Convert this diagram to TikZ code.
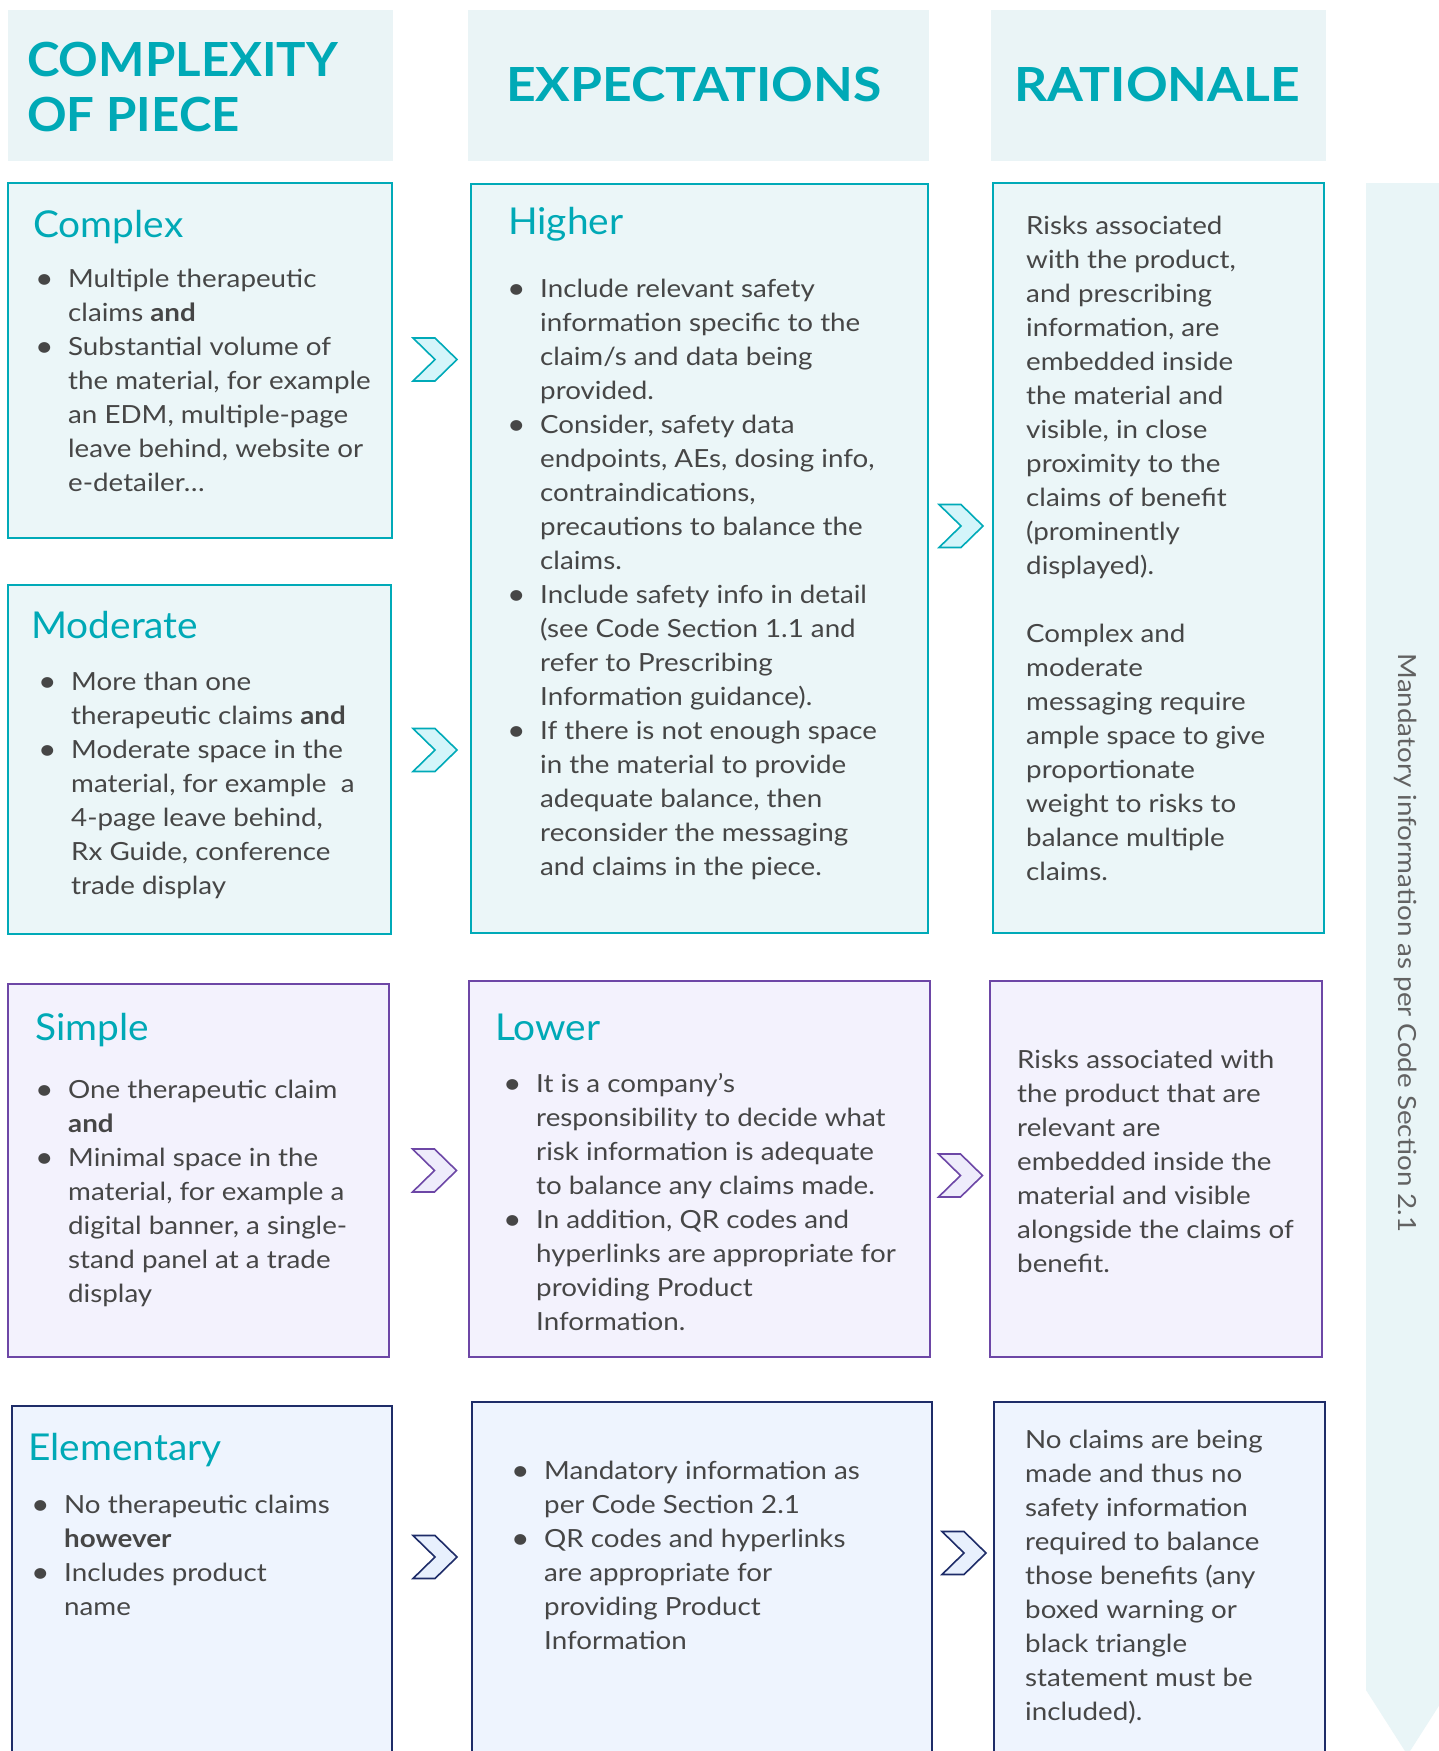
\documentclass[tikz,border=0pt]{standalone}
\usepackage{fontspec}
\setmainfont{Lato}[FakeStretch=1.11]
\newfontfamily\ttlfont{Lato}[FakeStretch=1.05]
\newfontfamily\hdfont{Lato}[FakeStretch=1.1]

\definecolor{tealtext}{HTML}{00A9B6}
\definecolor{hdrbg}{HTML}{EAF4F6}
\definecolor{tealline}{HTML}{00AAB8}
\definecolor{tealfill}{HTML}{EBF6F8}
\definecolor{tealchev}{HTML}{D4F5FA}
\definecolor{purpline}{HTML}{6D47A6}
\definecolor{purpfill}{HTML}{F3F2FD}
\definecolor{purpchev}{HTML}{EEECFB}
\definecolor{navyline}{HTML}{1E2C68}
\definecolor{navyfill}{HTML}{EEF4FE}
\definecolor{navychev}{HTML}{E8F0FD}
\definecolor{bodytext}{HTML}{464646}
\definecolor{sidebar}{HTML}{E9F5F7}

% bullet and continuation indents
\newcommand\bu{\makebox[26pt][l]{\hspace*{-7pt}\raisebox{-1pt}{\scalebox{1.15}{\textbullet}}}}
\newcommand\ct{\hspace*{26pt}}

\tikzset{
  hdrbox/.style={fill=hdrbg, draw=none},
  tealbox/.style={draw=tealline, fill=tealfill, line width=2.2pt},
  purpbox/.style={draw=purpline, fill=purpfill, line width=2.2pt},
  navybox/.style={draw=navyline, fill=navyfill, line width=2.2pt},
  tealchevron/.style={draw=tealline, fill=tealchev, line width=1.6pt, line join=miter},
  purpchevron/.style={draw=purpline, fill=purpchev, line width=1.6pt, line join=miter},
  navychevron/.style={draw=navyline, fill=navychev, line width=1.6pt, line join=miter},
  body/.style={anchor=north west, inner sep=0pt, align=left, text=bodytext,
    font=\fontsize{25}{34}\selectfont},
  ttl/.style={anchor=base west, inner sep=0pt, text=tealtext,
    font=\ttlfont\fontsize{37}{44}\selectfont},
  hd/.style={anchor=base west, inner sep=0pt, text=tealtext,
    font=\hdfont\fontsize{47}{55}\selectfont\bfseries},
}

% chevron centred on (#1,#2)
\newcommand\chev[3]{%
  \draw[#3, shift={(#1,#2)}] (-22,-21.5) -- (0,-21.5) -- (22,0) -- (0,21.5)
    -- (-22,21.5) -- (0,0) -- cycle;}

\begin{document}
\begin{tikzpicture}[x=1pt,y=-1pt]
\useasboundingbox (0,0) rectangle (1438,1751);
\fill[white] (0,0) rectangle (1438,1751);

% column headers
\fill[hdrbox] (8,10) rectangle (393,161);
\fill[hdrbox] (468,10) rectangle (929,161);
\fill[hdrbox] (991,10) rectangle (1326,161);
\node[hd] (hcomp1) at (27,76) {\scalebox{0.95}[1]{COMPLEXITY}};
\node[hd] (hcomp2) at (27,131) {\scalebox{0.95}[1]{OF PIECE}};
\node[hd] (hexp) at (506,101) {EXPECTATIONS};
\node[hd] (hrat) at (1014,101) {RATIONALE};

% side bar
\fill[sidebar] (1366,183) -- (1449,183) -- (1449,1690) -- (1407.5,1755)
  -- (1366,1690) -- cycle;
\node[rotate=-90, text=bodytext!85, font=\fontsize{25}{34}\selectfont, inner sep=0pt]
  (side) at (1406,943) {Mandatory information as per Code Section 2.1};

% ---- row boxes
\draw[tealbox] (8,183) rectangle (392,538);
\draw[tealbox] (8,585) rectangle (391,934);
\draw[tealbox] (471,184) rectangle (928,933);
\draw[tealbox] (993,183) rectangle (1324,933);

\draw[purpbox] (8,984) rectangle (389,1357);
\draw[purpbox] (469,981) rectangle (930,1357);
\draw[purpbox] (990,981) rectangle (1322,1357);

\draw[navybox] (12,1406) rectangle (392,1790);
\draw[navybox] (472,1402) rectangle (932,1790);
\draw[navybox] (994,1402) rectangle (1325,1790);

% ---- chevrons
\chev{435}{359.5}{tealchevron}
\chev{435}{750}{tealchevron}
\chev{961}{526}{tealchevron}
\chev{434.5}{1170.5}{purpchevron}
\chev{960.5}{1175.5}{purpchevron}
\chev{435}{1557}{navychevron}
\chev{964}{1553}{navychevron}

% ---- titles
\node[ttl] (tcomplex) at (33,237) {Complex};
\node[ttl] (tmoderate) at (31,638) {Moderate};
\node[ttl] (thigher) at (508,234) {Higher};
\node[ttl] (tsimple) at (35,1040) {Simple};
\node[ttl] (tlower) at (495,1040) {Lower};
\node[ttl] (telem) at (28,1460) {Elementary};

% ---- texts
\node[body] (bcomplex) at (42,263) {\strut\bu Multiple therapeutic\\
\ct claims \textbf{and}\\
\bu Substantial volume of\\
\ct the material, for example\\
\ct an EDM, multiple-page\\
\ct leave behind, website or\\
\ct e-detailer…};

\node[body] (bmoderate) at (45,666) {\strut\bu More than one\\
\ct therapeutic claims \textbf{and}\\
\bu Moderate space in the\\
\ct material, for example\ \ a\\
\ct 4-page leave behind,\\
\ct Rx Guide, conference\\
\ct trade display};

\node[body] (bhigher) at (514,273) {\strut\bu Include relevant safety\\
\ct information specific to the\\
\ct claim/s and data being\\
\ct provided.\\
\bu Consider, safety data\\
\ct endpoints, AEs, dosing info,\\
\ct contraindications,\\
\ct precautions to balance the\\
\ct claims.\\
\bu Include safety info in detail\\
\ct (see Code Section 1.1 and\\
\ct refer to Prescribing\\
\ct Information guidance).\\
\bu If there is not enough space\\
\ct in the material to provide\\
\ct adequate balance, then\\
\ct reconsider the messaging\\
\ct and claims in the piece.};

\node[body] (brattop) at (1026,210.5) {\strut Risks associated\\
with the product,\\
and prescribing\\
information, are\\
embedded inside\\
the material and\\
visible, in close\\
proximity to the\\
claims of benefit\\
(prominently\\
displayed).\\
\strut\\
Complex and\\
moderate\\
messaging require\\
ample space to give\\
proportionate\\
weight to risks to\\
balance multiple\\
claims.};

\node[body] (bsimple) at (42,1074) {\strut\bu One therapeutic claim\\
\ct \textbf{and}\\
\bu Minimal space in the\\
\ct material, for example a\\
\ct digital banner, a single-\\
\ct stand panel at a trade\\
\ct display};

\node[body] (blower) at (510,1068) {\strut\bu It is a company’s\\
\ct responsibility to decide what\\
\ct risk information is adequate\\
\ct to balance any claims made.\\
\bu In addition, QR codes and\\
\ct hyperlinks are appropriate for\\
\ct providing Product\\
\ct Information.};

\node[body] (bratlow) at (1017,1044.6) {\strut Risks associated with\\
the product that are\\
relevant are\\
embedded inside the\\
material and visible\\
alongside the claims of\\
benefit.};

\node[body] (belem) at (38,1489) {\strut\bu No therapeutic claims\\
\ct \textbf{however}\\
\bu Includes product\\
\ct name};

\node[body] (belemmid) at (518,1455) {\strut\bu Mandatory information as\\
\ct per Code Section 2.1\\
\bu QR codes and hyperlinks\\
\ct are appropriate for\\
\ct providing Product\\
\ct Information};

\node[body] (bratelem) at (1025,1424) {\strut No claims are being\\
made and thus no\\
safety information\\
required to balance\\
those benefits (any\\
boxed warning or\\
black triangle\\
statement must be\\
included).};
\end{tikzpicture}
\end{document}
